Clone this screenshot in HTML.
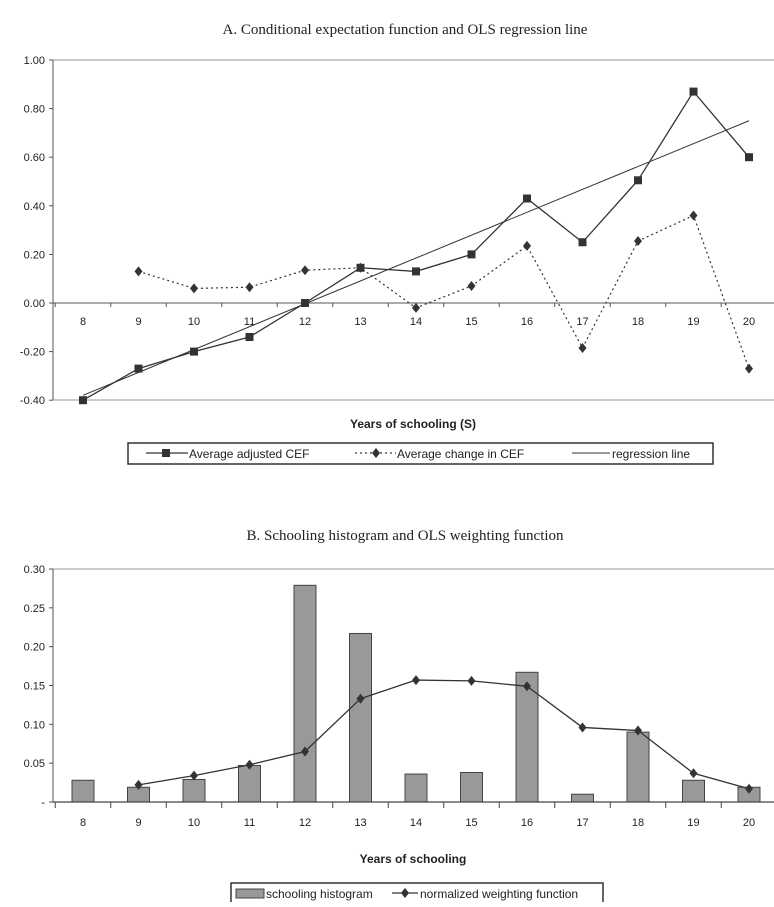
<!DOCTYPE html>
<html><head><meta charset="utf-8"><style>
body{margin:0;background:#fff;width:774px;height:902px;overflow:hidden}
svg text{font-family:"Liberation Sans",sans-serif;fill:#222}
</style></head><body>
<svg id="c" width="774" height="902">
<text x="405" y="34" text-anchor="middle" style="font-family:'Liberation Serif',serif;font-size:15px">A. Conditional expectation function and OLS regression line</text>
<text x="405" y="540" text-anchor="middle" style="font-family:'Liberation Serif',serif;font-size:15px">B. Schooling histogram and OLS weighting function</text>
<g id="a"></g><g id="b"></g>
</svg>
<script>
const years=[8,9,10,11,12,13,14,15,16,17,18,19,20];
const cefValues=[-0.40,-0.27,-0.20,-0.14,0.00,0.145,0.13,0.20,0.43,0.25,0.505,0.87,0.60];
const changeValues=[null,0.13,0.06,0.065,0.135,0.145,-0.02,0.07,0.235,-0.185,0.255,0.36,-0.27];
const regEnds=[-0.38,0.75];
const ticksA=["1.00","0.80","0.60","0.40","0.20","0.00","-0.20","-0.40"];
const histValues=[0.028,0.019,0.029,0.047,0.279,0.217,0.036,0.038,0.167,0.010,0.090,0.028,0.019];
const weightValues=[null,0.022,0.034,0.048,0.065,0.133,0.157,0.156,0.149,0.096,0.092,0.037,0.017];
const ticksB=["0.30","0.25","0.20","0.15","0.10","0.05","-"];
const NS="http://www.w3.org/2000/svg";
function mk(p,t,a,txt){const e=document.createElementNS(NS,t);for(const k in a)e.setAttribute(k,a[k]);if(txt!=null)e.textContent=txt;p.appendChild(e);return e;}
const xs=i=>83+i*55.5;
// Panel A
const A=document.getElementById('a');
const yA=v=>303-v*243;
let e=mk(A,'line',{x1:53,y1:60,x2:774,y2:60,stroke:'#999'});
e=mk(A,'line',{x1:53,y1:400,x2:774,y2:400,stroke:'#999'});

e=mk(A,'line',{x1:53,y1:60,x2:53,y2:400,stroke:'#555'});

e=mk(A,'line',{x1:53,y1:303,x2:774,y2:303,stroke:'#555'});

ticksA.forEach((t,i)=>{const v=parseFloat(t);const y=yA(v);
 mk(A,'line',{x1:49,y1:y,x2:53,y2:y,stroke:'#555'});
 e=mk(A,'text',{x:45,y:y+4,'text-anchor':'end','font-size':11},t);
 });
years.forEach((yr,i)=>{mk(A,'line',{x1:xs(i)-27.75,y1:303,x2:xs(i)-27.75,y2:307,stroke:'#555'});
 e=mk(A,'text',{x:xs(i),y:325,'text-anchor':'middle','font-size':11},yr);
 });
e=mk(A,'line',{x1:xs(0),y1:yA(regEnds[0]),x2:xs(12),y2:yA(regEnds[1]),stroke:'#333','stroke-width':1});

e=mk(A,'polyline',{points:cefValues.map((v,i)=>xs(i)+','+yA(v)).join(' '),fill:'none',stroke:'#333','stroke-width':1.3});

cefValues.forEach((v,i)=>{e=mk(A,'rect',{x:xs(i)-4,y:yA(v)-4,width:8,height:8,fill:'#333'});
 });
const ch=[];changeValues.forEach((v,i)=>{if(v!=null)ch.push(xs(i)+','+yA(v));});
e=mk(A,'polyline',{points:ch.join(' '),fill:'none',stroke:'#333','stroke-width':1.2,'stroke-dasharray':'2,3'});

changeValues.forEach((v,i)=>{if(v==null)return;const x=xs(i),y=yA(v);
 e=mk(A,'polygon',{points:`${x},${y-5} ${x+4},${y} ${x},${y+5} ${x-4},${y}`,fill:'#333'});
 });
e=mk(A,'text',{x:413,y:428,'text-anchor':'middle','font-size':12,'font-weight':'bold'},'Years of schooling (S)');

const LA=mk(A,'g',{});

mk(LA,'rect',{x:128,y:443,width:585,height:21,fill:'#fff',stroke:'#333','stroke-width':1.5});
mk(LA,'line',{x1:146,y1:453,x2:188,y2:453,stroke:'#333','stroke-width':1.3});
mk(LA,'rect',{x:162,y:449,width:8,height:8,fill:'#333'});
mk(LA,'text',{x:189,y:458,'font-size':12},'Average adjusted CEF');
mk(LA,'line',{x1:355,y1:453,x2:396,y2:453,stroke:'#333','stroke-dasharray':'2,3','stroke-width':1.2});
mk(LA,'polygon',{points:'376,448 380,453 376,458 372,453',fill:'#333'});
mk(LA,'text',{x:397,y:458,'font-size':12},'Average change in CEF');
mk(LA,'line',{x1:572,y1:453,x2:610,y2:453,stroke:'#333'});
mk(LA,'text',{x:612,y:458,'font-size':12},'regression line');
// Panel B
const B=document.getElementById('b');
const yB=v=>802-v*(233/0.30);
e=mk(B,'line',{x1:53,y1:569,x2:774,y2:569,stroke:'#999'});
e=mk(B,'line',{x1:53,y1:569,x2:53,y2:802,stroke:'#555'});

ticksB.forEach((t,i)=>{const v=t==='-'?0:parseFloat(t);const y=yB(v);
 mk(B,'line',{x1:49,y1:y,x2:53,y2:y,stroke:'#555'});
 e=mk(B,'text',{x:45,y:y+4,'text-anchor':'end','font-size':11},t);
 });
histValues.forEach((v,i)=>{e=mk(B,'rect',{x:xs(i)-11,y:yB(v),width:22,height:802-yB(v),fill:'#999',stroke:'#444','stroke-width':1});
 });
e=mk(B,'line',{x1:53,y1:802,x2:774,y2:802,stroke:'#444','stroke-width':1.2});

years.forEach((yr,i)=>{mk(B,'line',{x1:xs(i)-27.75,y1:802,x2:xs(i)-27.75,y2:808,stroke:'#444'});
 e=mk(B,'text',{x:xs(i),y:826,'text-anchor':'middle','font-size':11},yr);
 });
const wp=[];weightValues.forEach((v,i)=>{if(v!=null)wp.push(xs(i)+','+yB(v));});
e=mk(B,'polyline',{points:wp.join(' '),fill:'none',stroke:'#333','stroke-width':1.3});

weightValues.forEach((v,i)=>{if(v==null)return;const x=xs(i),y=yB(v);
 e=mk(B,'polygon',{points:`${x},${y-5} ${x+4},${y} ${x},${y+5} ${x-4},${y}`,fill:'#333'});
 });
e=mk(B,'text',{x:413,y:863,'text-anchor':'middle','font-size':12,'font-weight':'bold'},'Years of schooling');

const LB=mk(B,'g',{});

mk(LB,'rect',{x:231,y:883,width:372,height:24,fill:'#fff',stroke:'#333','stroke-width':1.5});
mk(LB,'rect',{x:236,y:889,width:28,height:9,fill:'#999',stroke:'#444'});
mk(LB,'text',{x:266,y:898,'font-size':12},'schooling histogram');
mk(LB,'line',{x1:392,y1:893,x2:418,y2:893,stroke:'#333','stroke-width':1.3});
mk(LB,'polygon',{points:'405,888 409,893 405,898 401,893',fill:'#333'});
mk(LB,'text',{x:420,y:898,'font-size':12},'normalized weighting function');
</script>
</body></html>
